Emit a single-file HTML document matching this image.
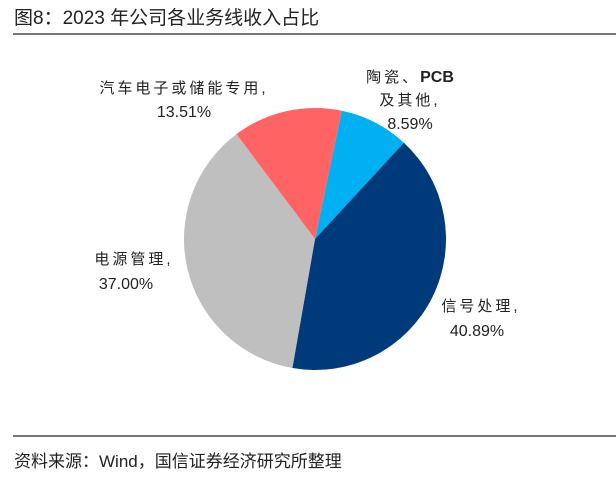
<!DOCTYPE html>
<html><head><meta charset="utf-8"><style>
body{margin:0;background:#fff;}
svg text{font-family:"Liberation Sans","Noto Sans CJK SC",sans-serif;}
.cj{letter-spacing:3px;}
</style></head><body>
<svg width="616" height="480" viewBox="0 0 616 480">
<text x="14" y="24" font-size="19" fill="#222">图8：2023 年公司各业务线收入占比</text>
<rect x="13" y="33" width="603" height="2" fill="#777"/>
<g id="pie"></g>
<g font-size="15" fill="#222" text-anchor="middle">
<text class="cj" x="184" y="93">汽车电子或储能专用,</text>
<text x="184" y="117" font-size="16">13.51%</text>
<text x="410" y="82"><tspan letter-spacing="3">陶瓷、</tspan><tspan font-size="16" font-weight="600">PCB</tspan></text>
<text class="cj" x="410" y="105">及其他,</text>
<text x="410" y="129" font-size="16">8.59%</text>
<text class="cj" x="134" y="264">电源管理,</text>
<text x="126" y="289" font-size="16">37.00%</text>
<text class="cj" x="481" y="311">信号处理,</text>
<text x="477" y="336" font-size="16">40.89%</text>
</g>
<rect x="13" y="435" width="603" height="2" fill="#777"/>
<text x="14" y="467" font-size="17" fill="#222">资料来源：Wind，国信证券经济研究所整理</text>
</svg>
<script>
const categories=["陶瓷、PCB及其他","信号处理","电源管理","汽车电子或储能专用"];
const values=[8.59,40.89,37.00,13.51];
const colors=["#00B0F0","#003A7A","#BFBFBF","#FF6363"];
const cx=315,cy=239,r=131,startDeg=11.8;
const g=document.getElementById('pie');
const total=values.reduce((a,b)=>a+b,0);
let a=startDeg*Math.PI/180;
values.forEach((v,i)=>{
  const a2=a+v/total*2*Math.PI;
  const x1=cx+r*Math.sin(a),y1=cy-r*Math.cos(a);
  const x2=cx+r*Math.sin(a2),y2=cy-r*Math.cos(a2);
  const large=(a2-a)>Math.PI?1:0;
  const p=document.createElementNS('http://www.w3.org/2000/svg','path');
  p.setAttribute('d',`M${cx},${cy}L${x1},${y1}A${r},${r} 0 ${large} 1 ${x2},${y2}Z`);
  p.setAttribute('fill',colors[i]);
  
  
  g.appendChild(p);
  a=a2;
});
</script>
</body></html>
